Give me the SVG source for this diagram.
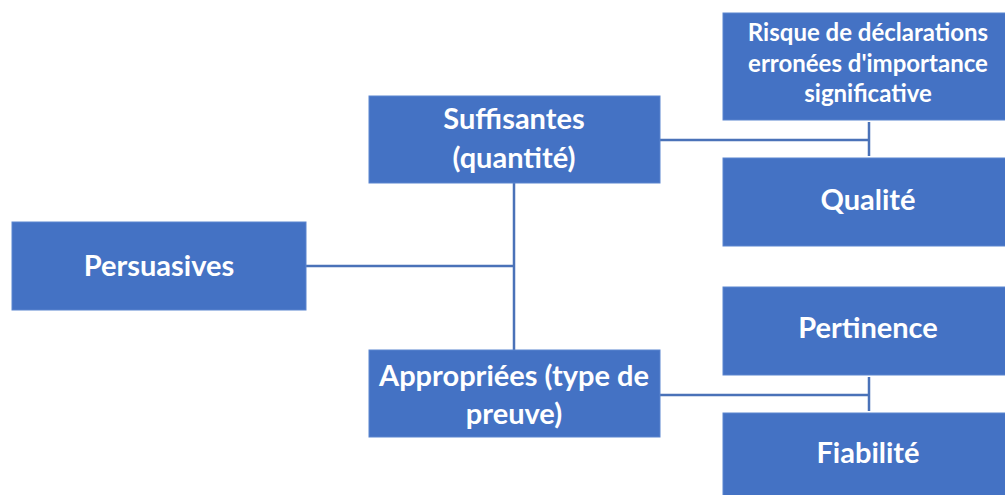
<svg xmlns="http://www.w3.org/2000/svg" width="1005" height="495" viewBox="0 0 1005 495">
<style>
.box{fill:#4472C4;stroke:#5B85CF;stroke-width:1}
.t{font-family:Lato,"Open Sans","Liberation Sans",sans-serif;font-weight:bold;fill:#FFFFFF;text-anchor:middle;font-size:29px}
.s{font-size:24px}
.c{stroke:#4A72B8;stroke-width:2.5;fill:none}
</style>
<rect width="1005" height="495" fill="#FFFFFF"/>
<g id="connectors">
<path class="c" d="M306 266 H514 M514 183 V350"/>
<path class="c" d="M660 140 H869 M869 122 V156"/>
<path class="c" d="M660 395 H869 M869 377 V411"/>
</g>
<g id="persuasives">
<rect class="box" x="12" y="222" width="294" height="88"/>
<text class="t" x="159" y="276">Persuasives</text>
</g>
<g id="suffisantes">
<rect class="box" x="369" y="96" width="291" height="87"/>
<text class="t" x="514" y="129">Suffisantes</text>
<text class="t" x="514" y="168">(quantité)</text>
</g>
<g id="appropriees">
<rect class="box" x="369" y="350" width="291" height="87"/>
<text class="t" x="514" y="386">Appropriées (type de</text>
<text class="t" x="514" y="424">preuve)</text>
</g>
<g id="risque">
<rect class="box" x="723" y="13" width="290" height="107"/>
<text class="t s" x="868" y="41">Risque de déclarations</text>
<text class="t s" x="868" y="72">erronées d'importance</text>
<text class="t s" x="868" y="102">significative</text>
</g>
<g id="qualite">
<rect class="box" x="723" y="158" width="290" height="88"/>
<text class="t" x="868" y="210">Qualité</text>
</g>
<g id="pertinence">
<rect class="box" x="723" y="287" width="290" height="88"/>
<text class="t" x="868" y="338">Pertinence</text>
</g>
<g id="fiabilite">
<rect class="box" x="723" y="413" width="290" height="90"/>
<text class="t" x="868" y="463">Fiabilité</text>
</g>
</svg>
